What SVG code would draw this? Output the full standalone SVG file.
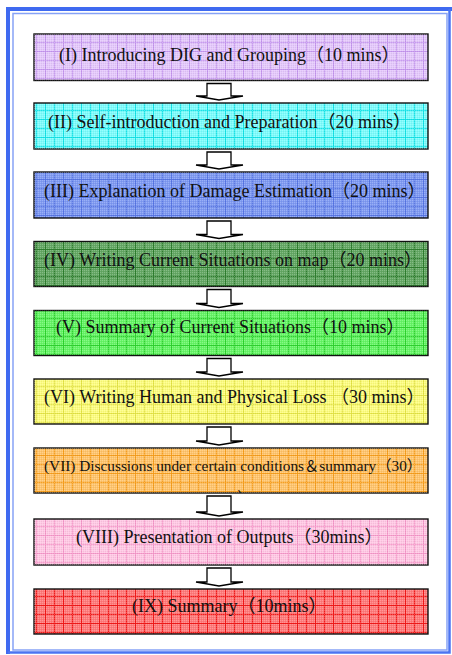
<svg xmlns="http://www.w3.org/2000/svg" width="452" height="655" viewBox="0 0 452 655">
<style>
.box{stroke:#111;stroke-width:1.4}
.dith{fill:url(#dither)}
.t{font-family:"Liberation Serif","Times New Roman","Noto Sans CJK JP",serif;font-size:18px;fill:#111}
.t7{font-size:15.3px}
.arr{fill:#fff;stroke:#000;stroke-width:1.3;stroke-linejoin:miter}
</style>
<defs>
<pattern id="dither" width="2" height="2" patternUnits="userSpaceOnUse">
<rect width="1" height="1" fill="#fff" fill-opacity="0.22"/>
<rect x="1" y="1" width="1" height="1" fill="#000" fill-opacity="0.05"/>
</pattern>
<pattern id="g1" width="9" height="9" x="0" y="42" patternUnits="userSpaceOnUse"><rect width="9" height="9" fill="#e4c8fb"/><path d="M0 0.5H9M0.5 0V9" stroke="#c79af0" stroke-width="1"/></pattern>
<pattern id="g2" width="9" height="9" x="0" y="110" patternUnits="userSpaceOnUse"><rect width="9" height="9" fill="#7dfcfc"/><path d="M0 0.5H9M0.5 0V9" stroke="#16e4e8" stroke-width="1"/></pattern>
<pattern id="g3" width="9" height="9" x="0" y="179" patternUnits="userSpaceOnUse"><rect width="9" height="9" fill="#7f9af2"/><path d="M0 0.5H9M0.5 0V9" stroke="#5a78e6" stroke-width="1"/></pattern>
<pattern id="g4" width="9" height="9" x="0" y="249" patternUnits="userSpaceOnUse"><rect width="9" height="9" fill="#64a864"/><path d="M0 0.5H9M0.5 0V9" stroke="#2f7f2f" stroke-width="1"/></pattern>
<pattern id="g5" width="9" height="9" x="0" y="318" patternUnits="userSpaceOnUse"><rect width="9" height="9" fill="#66f566"/><path d="M0 0.5H9M0.5 0V9" stroke="#2fd42f" stroke-width="1"/></pattern>
<pattern id="g6" width="9" height="9" x="0" y="386" patternUnits="userSpaceOnUse"><rect width="9" height="9" fill="#fdfd80"/><path d="M0 0.5H9M0.5 0V9" stroke="#e6e64a" stroke-width="1"/></pattern>
<pattern id="g7" width="9" height="9" x="0" y="455" patternUnits="userSpaceOnUse"><rect width="9" height="9" fill="#ffc46c"/><path d="M0 0.5H9M0.5 0V9" stroke="#f8a020" stroke-width="1"/></pattern>
<pattern id="g8" width="9" height="9" x="0" y="526" patternUnits="userSpaceOnUse"><rect width="9" height="9" fill="#ffc8e4"/><path d="M0 0.5H9M0.5 0V9" stroke="#f79ccc" stroke-width="1"/></pattern>
<pattern id="g9" width="9" height="9" x="0" y="596" patternUnits="userSpaceOnUse"><rect width="9" height="9" fill="#ff7a7a"/><path d="M0 0.5H9M0.5 0V9" stroke="#f21a1a" stroke-width="1"/></pattern>
<clipPath id="clip7"><rect x="34" y="448" width="394" height="45"/></clipPath>
</defs>
<rect width="452" height="655" fill="#fff"/>
<g id="frame" fill="none">
<path d="M8 654 V9 H452" stroke="#3f6af0" stroke-width="4"/>
<path d="M449.5 9 V652.5 H8" stroke="#4b74f2" stroke-width="2.5"/>
<path d="M13 650 V13.5 H447 V650 Z" stroke="#86a2f6" stroke-width="1.5"/>
</g>
<g id="connectors">
<path class="arr" d="M207 83.5H231V96H243L219 100L196 96H207Z"/>
<path class="arr" d="M207 152H231V165H243L219 169L196 165H207Z"/>
<path class="arr" d="M207 221H231V234.5H243L219 238.5L196 234.5H207Z"/>
<path class="arr" d="M207 289.5H231V303.5H243L219 307.5L196 303.5H207Z"/>
<path class="arr" d="M207 358.5H231V372H243L219 376L196 372H207Z"/>
<path class="arr" d="M207 427H231V441H243L219 445L196 441H207Z"/>
<path class="arr" d="M207 496H231V512H243L219 516L196 512H207Z"/>
<path class="arr" d="M207 568H231V582H243L219 586L196 582H207Z"/>
</g>
<g id="n1"><rect class="box" x="34" y="34" width="394" height="46.5" fill="url(#g1)"/><rect class="dith" x="34" y="34" width="394" height="46.5"/><text class="t" x="59" y="60.5">(I) Introducing DIG and Grouping（10 mins）</text></g>
<g id="n2"><rect class="box" x="34" y="103" width="394" height="46" fill="url(#g2)"/><rect class="dith" x="34" y="103" width="394" height="46"/><text class="t" x="48" y="127.5">(II) Self-introduction and Preparation（20 mins）</text></g>
<g id="n3"><rect class="box" x="34" y="172" width="394" height="46" fill="url(#g3)"/><rect class="dith" x="34" y="172" width="394" height="46"/><text class="t" x="44" y="196.7">(III) Explanation of Damage Estimation（20 mins）</text></g>
<g id="n4"><rect class="box" x="34" y="241.5" width="394" height="45" fill="url(#g4)"/><rect class="dith" x="34" y="241.5" width="394" height="45"/><text class="t" x="44" y="265.5">(IV) Writing Current Situations on map（20 mins）</text></g>
<g id="n5"><rect class="box" x="34" y="310.5" width="394" height="45" fill="url(#g5)"/><rect class="dith" x="34" y="310.5" width="394" height="45"/><text class="t" x="56" y="333.3">(V) Summary of Current Situations（10 mins）</text></g>
<g id="n6"><rect class="box" x="34" y="379" width="394" height="45" fill="url(#g6)"/><rect class="dith" x="34" y="379" width="394" height="45"/><text class="t" x="44" y="403">(VI) Writing Human and Physical Loss （30 mins）</text></g>
<g id="n7"><rect class="box" x="34" y="448" width="394" height="45" fill="url(#g7)"/><rect class="dith" x="34" y="448" width="394" height="45"/><text class="t t7" x="44" y="470.7">(VII) Discussions under certain conditions＆summary（30）</text><text class="t t7" x="230" y="502.5" text-anchor="middle" clip-path="url(#clip7)">mins）</text></g>
<g id="n8"><rect class="box" x="34" y="519" width="394" height="46" fill="url(#g8)"/><rect class="dith" x="34" y="519" width="394" height="46"/><text class="t" x="76" y="543.3">(VIII) Presentation of Outputs（30mins）</text></g>
<g id="n9"><rect class="box" x="34" y="589" width="394" height="45" fill="url(#g9)"/><rect class="dith" x="34" y="589" width="394" height="45"/><text class="t" x="132" y="612.3">(IX) Summary（10mins）</text></g>
</svg>
